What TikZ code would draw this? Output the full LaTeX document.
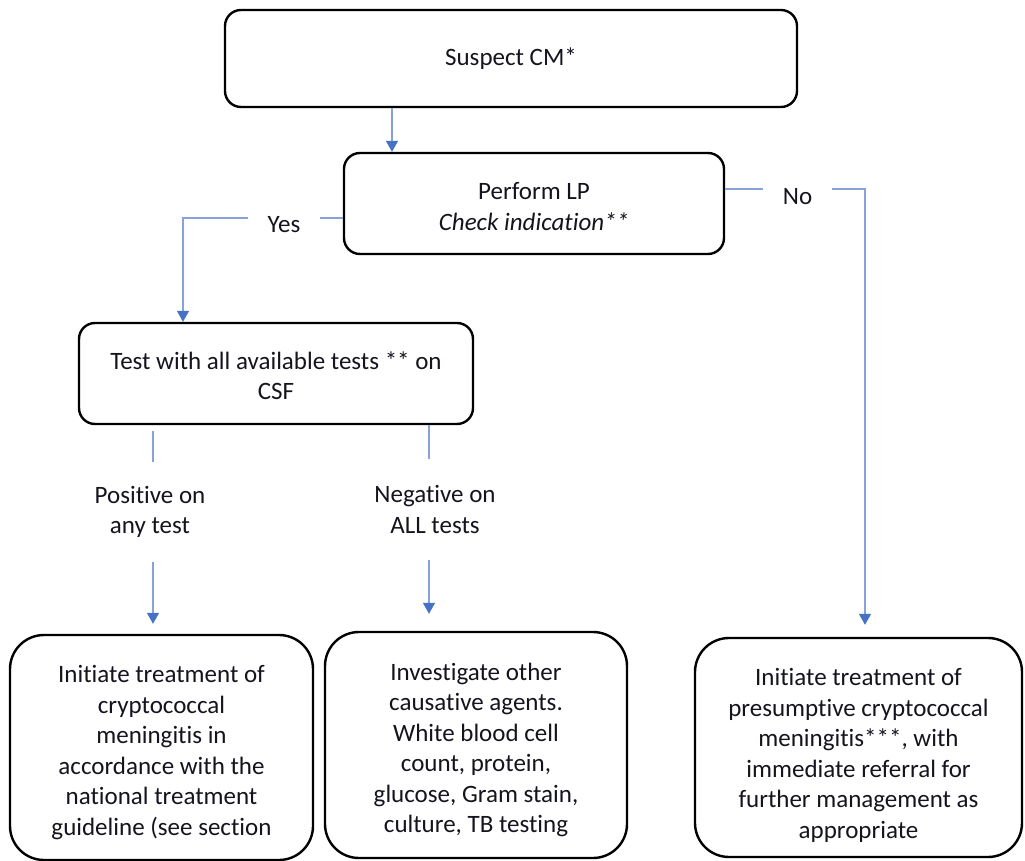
\documentclass[tikz,border=0pt]{standalone}
\usepackage{fontspec}
\setmainfont{Carlito}[Ligatures={NoCommon}]
\usetikzlibrary{arrows.meta,calc}
\definecolor{linkblue}{RGB}{135,162,218}
\definecolor{tipblue}{RGB}{68,114,196}
\definecolor{inktext}{RGB}{20,20,30}
\tikzset{
  box/.style={draw=black, line width=2.4pt, rounded corners=16pt, align=center,
    inner sep=0pt, text=inktext, font=\fontsize{25}{30.5}\selectfont},
  bigbox/.style={box, rounded corners=34pt},
  lbl/.style={inner sep=0pt, align=center, text=inktext,
    font=\fontsize{25}{30.5}\selectfont},
  conn/.style={draw=linkblue, line width=1.4pt},
  arr/.style={conn, -{Triangle[length=11pt,width=12pt,color=tipblue]}}
}
\begin{document}
\begin{tikzpicture}[x=1pt,y=-1pt]
\useasboundingbox (0,0) rectangle (1025,861);

% process boxes
\node[box, minimum width=572pt, minimum height=97pt] (suspect) at (511,58.5) {Suspect CM*};
\node[box, minimum width=380pt, minimum height=101pt] (plp) at (534,203.5) {};
\node[lbl] (plptext) at ($(plp.center)+(0,3)$) {Perform LP\\\textit{Check indication**}};
\node[box, minimum width=394pt, minimum height=101pt] (test) at (276,373.5) {};
\node[lbl] (testtext) at ($(test.center)+(0,2)$) {Test with all available tests ** on\\CSF};

% outcome boxes
\node[bigbox, minimum width=303pt, minimum height=225pt] (treat) at (161.5,747.5) {};
\node[lbl] (treattext) at ($(treat.center)+(0,5)$)
  {Initiate treatment of\\cryptococcal\\meningitis in\\accordance with the\\national treatment\\guideline (see section};
\node[bigbox, minimum width=302pt, minimum height=226pt] (invest) at (476,745) {};
\node[lbl] (investtext) at ($(invest.center)+(0,5)$)
  {Investigate other\\causative agents.\\White blood cell\\count, protein,\\glucose, Gram stain,\\culture, TB testing};
\node[bigbox, minimum width=327pt, minimum height=219pt] (presume) at (858.5,747.5) {};
\node[lbl] (presumetext) at ($(presume.center)+(0,8)$)
  {Initiate treatment of\\presumptive cryptococcal\\meningitis***, with\\immediate referral for\\further management as\\appropriate};

% branch labels
\node[lbl, minimum width=72pt] (yes) at (284,225) {Yes};
\node[lbl, minimum width=69pt] (no) at (797.5,197) {No};
\node[lbl, minimum height=100pt] (pos) at (150,512) {Positive on\\any test};
\node[lbl, minimum height=101pt] (neg) at (435,509.5) {Negative on\\ALL tests};

% guide rows and columns for the connectors
\coordinate (topcol) at (392,0);
\coordinate (yesrow) at (0,218);
\coordinate (yescol) at (183,0);
\coordinate (norow) at (0,189);
\coordinate (nocol) at (865,0);
\coordinate (poscol) at (153,0);
\coordinate (negcol) at (429,0);

% connectors
\draw[arr] (suspect.south -| topcol) -- (plp.north -| topcol);

\draw[conn] (plp.west |- yesrow) -- (yes.east |- yesrow);
\draw[arr] (yes.west |- yesrow) -- (yesrow -| yescol) -- (test.north -| yescol);

\draw[conn] (plp.east |- norow) -- (no.west |- norow);
\draw[arr, shorten >=12pt] (no.east |- norow) -- (norow -| nocol) -- (presume.north -| nocol);

\draw[conn, shorten <=6pt] (test.south -| poscol) -- (pos.north -| poscol);
\draw[arr, shorten >=10pt] (pos.south -| poscol) -- (treat.north -| poscol);

\draw[conn] (test.south -| negcol) -- (neg.north -| negcol);
\draw[arr, shorten >=17pt] (neg.south -| negcol) -- (invest.north -| negcol);
\end{tikzpicture}
\end{document}
